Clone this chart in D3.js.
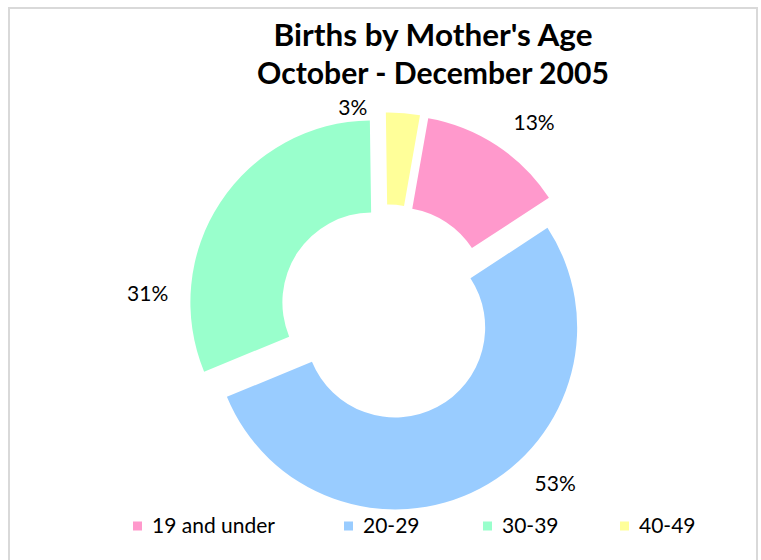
<!DOCTYPE html>
<html>
<head>
<meta charset="utf-8">
<title>Births by Mother's Age</title>
<style>
    body { margin: 0; background: #fff; }
    text { font-family: Lato, "Open Sans", sans-serif; fill: #000; }
    .title { font-weight: bold; font-size: 30px; }
    .pct { font-size: 21px; }
    .legend text { font-size: 21px; }
</style>
</head>
<body>
<script src="https://cdn.jsdelivr.net/npm/d3@7"></script>
<script>

// data
var ageGroups = ["19 and under", "20-29", "30-39", "40-49"];
var shares = [13, 53, 31, 3];
var sliceColors = ["#ff99cc", "#99ccff", "#99ffcc", "#ffff99"];

var W = 761, H = 560;
var cx = 387, cy = 312, outerR = 182, innerR = 90, explode = 17.5;
var firstAngle = 10 * Math.PI / 180;

// where excel put the % labels (angle in degrees, distance from centre)
var labelSpots = [[37.8, 240], [135.5, 240], [274.3, 240], [350.5, 207]];
var legendX = [133, 344, 483, 620];

var svg = d3.select("body").append("svg")
        .attr("width", W)
        .attr("height", H);

// chart frame
svg.append("rect")
        .attr("x", 9).attr("y", 8)
        .attr("width", 748).attr("height", 570)
        .attr("fill", "#fff")
        .attr("stroke", "#d9d9d9")
        .attr("stroke-width", 2);

svg.append("text").attr("class", "title")
        .attr("x", 433).attr("y", 46)
        .attr("text-anchor", "middle")
        .attr("textLength", 319)
        .attr("lengthAdjust", "spacingAndGlyphs")
        .text("Births by Mother's Age");
svg.append("text").attr("class", "title")
        .attr("x", 433).attr("y", 84)
        .attr("text-anchor", "middle")
        .attr("textLength", 352)
        .attr("lengthAdjust", "spacingAndGlyphs")
        .text("October - December 2005");

var pie = d3.pie().sort(null)
        .startAngle(firstAngle)
        .endAngle(firstAngle + 2 * Math.PI);
var arc = d3.arc().innerRadius(innerR).outerRadius(outerR);

var slices = pie(shares);

var g = svg.append("g").attr("transform", "translate(" + cx + "," + cy + ")");

g.selectAll("path")
        .data(slices)
        .enter().append("path")
        .attr("transform", function(d) {
            var p = d3.pointRadial((d.startAngle + d.endAngle) / 2, explode);
            return "translate(" + p[0] + "," + p[1] + ")";
        })
        .attr("d", arc)
        .attr("fill", function(d, i) { return sliceColors[i]; });

g.selectAll(".pct")
        .data(slices)
        .enter().append("text")
        .attr("class", "pct")
        .attr("text-anchor", "middle")
        .attr("dy", "0.35em")
        .attr("transform", function(d, i) {
            var p = d3.pointRadial(labelSpots[i][0] * Math.PI / 180, labelSpots[i][1]);
            return "translate(" + p[0] + "," + p[1] + ")";
        })
        .text(function(d) { return d.data + "%"; });

// legend
var leg = svg.append("g").attr("class", "legend")
        .selectAll("g")
        .data(ageGroups)
        .enter().append("g")
        .attr("transform", function(d, i) { return "translate(" + legendX[i] + ",526)"; });
leg.append("rect")
        .attr("x", 0).attr("y", -4.5)
        .attr("width", 9).attr("height", 9)
        .attr("fill", function(d, i) { return sliceColors[i]; });
leg.append("text")
        .attr("x", 19)
        .attr("dy", "0.35em")
        .text(function(d) { return d; });

</script>
</body>
</html>
